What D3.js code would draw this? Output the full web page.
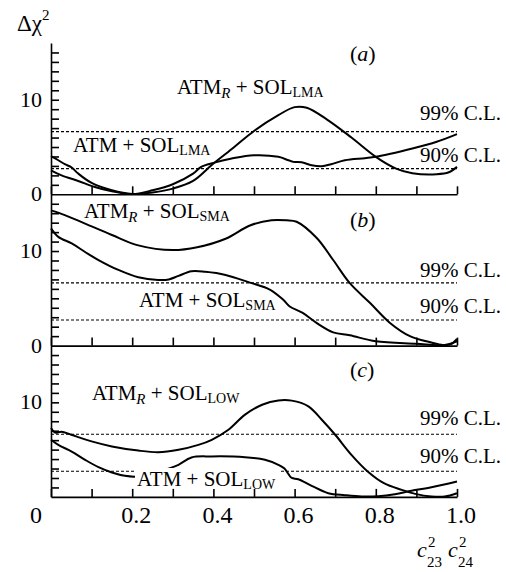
<!DOCTYPE html>
<html>
<head>
<meta charset="utf-8">
<script src="https://cdn.jsdelivr.net/npm/d3@7"></script>
<style>
  body { margin: 0; background: #fff; }
  svg, text, tspan { font-family: "Liberation Serif", "Times New Roman", serif; }
  text { fill: #000; white-space: pre; }
</style>
</head>
<body>
<div id="chart"></div>
<script>
// values: [c23^2 c24^2, delta chi^2]
const atmRLma = [[0,4.03],[0.018,3.6],[0.034,3.18],[0.051,2.83],[0.067,2.19],[0.10,1.2],[0.15,0.42],[0.2,0.03],[0.25,0.2],[0.30,0.6],[0.35,1.41],[0.40,3.25],[0.45,4.95],[0.50,6.7],[0.56,8.37],[0.60,9.22],[0.63,9.15],[0.68,7.9],[0.74,6.0],[0.80,3.96],[0.85,2.72],[0.89,2.23],[0.95,2.12],[0.98,2.33],[1.0,2.9]];
const atmLma = [[0,2.54],[0.026,2.0],[0.067,1.41],[0.108,0.78],[0.15,0.32],[0.2,0.02],[0.25,0.42],[0.30,1.06],[0.35,2.19],[0.37,2.9],[0.40,3.32],[0.445,3.78],[0.50,4.13],[0.56,3.96],[0.585,3.6],[0.597,3.43],[0.617,3.39],[0.642,3.07],[0.667,2.97],[0.69,3.18],[0.724,3.6],[0.773,3.82],[0.80,3.96],[0.89,4.84],[0.95,5.55],[1.0,6.36]];

const atmRSma = [[0,14.3],[0.034,13.8],[0.084,12.9],[0.15,11.7],[0.215,10.6],[0.30,10.1],[0.36,10.4],[0.43,11.3],[0.49,12.7],[0.543,13.26],[0.58,13.25],[0.605,13.1],[0.654,11.4],[0.695,9.05],[0.736,6.6],[0.786,4.5],[0.835,2.4],[0.884,1.0],[0.934,0.35],[0.966,0.05],[0.985,0.15],[1.0,0.7]];
const atmSma = [[0,12.4],[0.018,11.5],[0.051,10.8],[0.084,9.9],[0.117,9.05],[0.166,8.0],[0.215,7.23],[0.264,6.95],[0.29,7.0],[0.314,7.37],[0.346,7.86],[0.38,7.8],[0.43,7.47],[0.49,6.66],[0.54,5.9],[0.572,4.84],[0.588,4.14],[0.62,3.45],[0.654,2.4],[0.695,1.4],[0.736,1.09],[0.80,0.46],[0.90,0.2],[0.966,0.05],[1.0,0.45]];

const atmRLow = [[0,7.28],[0.01,6.8],[0.026,6.9],[0.05,6.57],[0.10,5.87],[0.15,5.34],[0.215,4.9],[0.264,4.73],[0.314,4.98],[0.363,5.5],[0.396,6.04],[0.437,7.1],[0.478,8.7],[0.52,9.75],[0.56,10.2],[0.593,10.18],[0.634,9.58],[0.667,8.16],[0.70,6.57],[0.74,4.45],[0.78,2.69],[0.82,1.45],[0.864,0.74],[0.897,0.32],[0.937,0.04],[0.97,0.04],[1.0,0.39]];
const atmLow = [[0,6.04],[0.018,5.5],[0.051,4.8],[0.084,3.92],[0.117,3.14],[0.15,2.58],[0.182,2.23],[0.21,2.15],[0.25,2.5],[0.293,3.04],[0.314,3.39],[0.346,4.17],[0.396,4.28],[0.478,4.2],[0.527,3.92],[0.56,3.39],[0.575,3.0],[0.585,2.4],[0.593,2.0],[0.609,1.87],[0.642,1.17],[0.683,0.39],[0.724,0.18],[0.765,0.04],[0.806,0.07],[0.847,0.28],[0.888,0.64],[0.937,1.02],[1.0,1.63]];

const clLevels = [2.71, 6.63];
const clLabels = ["90% C.L.", "99% C.L."];
const xTickValues = d3.range(0, 11).map(i => i / 10);
const xTickLabels = [0.2, 0.4, 0.6, 0.8, 1.0];
const yMinorTicks = d3.range(1, 16);
const yLabelValues = [[0, 10], [0, 10], [10]];
const panelNames = ["a", "b", "c"];
const solNames = ["LMA", "SMA", "LOW"];

const width = 506, height = 572;
const panelTop = 43, panelH = 151.3;

const svg = d3.select("#chart").append("svg")
    .attr("width", width)
    .attr("height", height)
    .attr("font-family", "Liberation Serif, serif");

const x = d3.scaleLinear().domain([0, 1]).range([51, 457]);

// text with sub/superscript pieces
function addText(g, px, py, parts, size) {
    const t = g.append("text").attr("x", px).attr("y", py).attr("font-size", size);
    let shift = 0;
    parts.forEach(p => {
        const s = p.shift || 0;
        const ts = t.append("tspan").attr("dy", s - shift).text(p.t);
        if (p.size) ts.attr("font-size", p.size);
        if (p.italic) ts.attr("font-style", "italic");
        shift = s;
    });
    return t;
}

const panels = [
    { series: [atmRLma, atmLma], rLabel: [177, 94], aLabel: [73, 152], tag: 61, clY: [162, 120] },
    { series: [atmRSma, atmSma], rLabel: [84, 218], aLabel: [139, 307], tag: 227, clY: [313, 277] },
    { series: [atmRLow, atmLow], rLabel: [92, 400], aLabel: [137, 486], tag: 377, clY: [463, 425], knockout: true }
];

panels.forEach((p, i) => {
    const top = panelTop + i * panelH;
    const y = d3.scaleLinear().domain([0, 16]).range([top + panelH, top]);
    const g = svg.append("g");

    // C.L. lines
    g.selectAll(".cl")
        .data(clLevels)
        .enter().append("line")
        .attr("x1", x(0)).attr("x2", x(1))
        .attr("y1", d => y(d)).attr("y2", d => y(d))
        .attr("stroke", "#000")
        .attr("stroke-width", 1.1)
        .attr("stroke-dasharray", "3,2");

    clLabels.forEach((lab, k) => {
        g.append("text").attr("x", 501).attr("y", p.clY[k])
            .attr("text-anchor", "end").attr("font-size", 21).text(lab);
    });

    const line = d3.line()
        .x(d => x(d[0]))
        .y(d => y(d[1]))
        .curve(d3.curveCatmullRom.alpha(0.5));

    g.selectAll(".curve")
        .data(p.series)
        .enter().append("path")
        .attr("d", line)
        .attr("fill", "none")
        .attr("stroke", "#000")
        .attr("stroke-width", 2);

    const sol = solNames[i];
    addText(g, p.rLabel[0], p.rLabel[1], [
        { t: "ATM" }, { t: "R", shift: 4, size: 15, italic: true },
        { t: " + SOL" }, { t: sol, shift: 3, size: 14 }
    ], 21);
    const aText = addText(g, p.aLabel[0], p.aLabel[1], [
        { t: "ATM + SOL" }, { t: sol, shift: 3, size: 14 }
    ], 21);
    if (p.knockout) {
        const b = aText.node().getBBox();
        g.insert("rect", function() { return aText.node(); })
            .attr("x", b.x - 2).attr("y", b.y + 1)
            .attr("width", b.width + 5).attr("height", y(0) - b.y - 1)
            .attr("fill", "#fff");
    }

    // panel tag (a), (b), (c)
    addText(g, 350, p.tag, [
        { t: "(" }, { t: panelNames[i], italic: true }, { t: ")" }
    ], 22);

    // bottom axis, ticks pointing up
    g.append("g")
        .attr("transform", `translate(0,${y(0)})`)
        .call(d3.axisTop(x).tickValues(xTickValues).tickSize(8).tickSizeOuter(0).tickFormat(""))
        .call(a => a.selectAll("path,line").attr("stroke", "#000").attr("stroke-width", 1.6));

    // left axis, minor ticks pointing right
    g.append("g")
        .attr("transform", `translate(${x(0)},0)`)
        .call(d3.axisRight(y).tickValues(yMinorTicks).tickSize(8).tickSizeOuter(0).tickFormat(""))
        .call(a => a.selectAll("path,line").attr("stroke", "#000").attr("stroke-width", 1.6));

    yLabelValues[i].forEach(v => {
        g.append("text").attr("x", 42).attr("y", y(v)).attr("dy", "0.32em")
            .attr("text-anchor", "end").attr("font-size", 22).text(v);
    });
});

// x tick labels under the last panel
const xl = svg.append("g");
xl.selectAll("text")
    .data(xTickLabels)
    .enter().append("text")
    .attr("x", d => x(d) + 4)
    .attr("y", 523)
    .attr("text-anchor", "middle")
    .attr("font-size", 24)
    .text(d3.format(".1f"));
xl.append("text").attr("x", 36).attr("y", 523).attr("text-anchor", "middle")
    .attr("font-size", 24).text("0");

// axis titles
addText(svg, 17, 31, [{ t: "Δχ" }, { t: "2", shift: -11, size: 15 }], 23);

[[417, "2", "23"], [448, "2", "24"]].forEach(([cx, sup, sub]) => {
    svg.append("text").attr("x", cx).attr("y", 557).attr("font-size", 22)
        .attr("font-style", "italic").text("c");
    svg.append("text").attr("x", cx + 11).attr("y", 547).attr("font-size", 15).text(sup);
    svg.append("text").attr("x", cx + 10).attr("y", 567).attr("font-size", 15).text(sub);
});
</script>
</body>
</html>
